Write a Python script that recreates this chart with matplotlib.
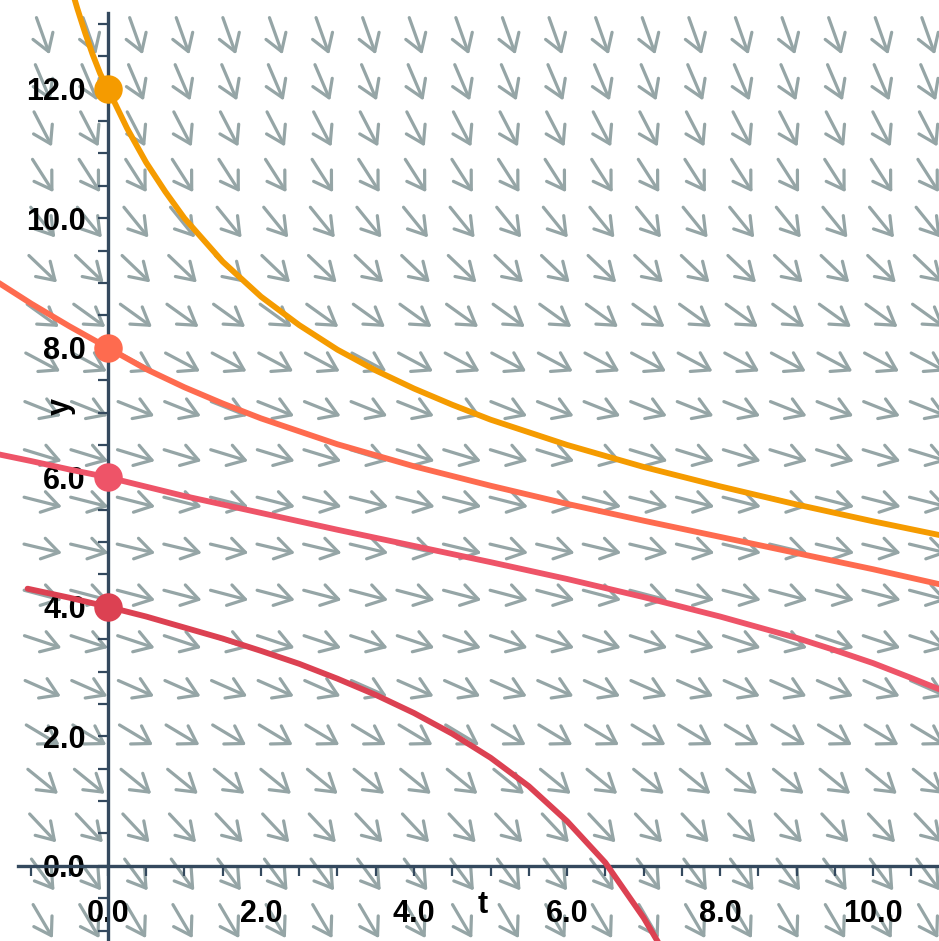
import matplotlib.pyplot as plt
import numpy as np
from matplotlib.ticker import MultipleLocator, FixedLocator

# slope field: dy/dt read per row (top row first), arrows same in every column
row_slopes = [-3.31, -2.77, -2.28, -1.85, -1.46, -1.13, -0.85, -0.63, -0.47, -0.36,
              -0.30, -0.28, -0.31, -0.39, -0.52, -0.71, -0.96, -1.26, -1.61, -2.01]

# solution curves
t_12 = [-0.45, -0.4, -0.3, -0.2, -0.1, 0.0, 0.25, 0.5, 0.75, 1.0, 1.5, 2.0, 2.5, 3.0, 3.5,
        4.0, 4.5, 5.0, 6.0, 7.0, 8.0, 9.0, 10.0, 10.9]
y_12 = [13.44, 13.24, 12.87, 12.53, 12.23, 12.0, 11.39, 10.86, 10.41, 10.0, 9.33, 8.79, 8.35,
        7.97, 7.65, 7.37, 7.12, 6.89, 6.50, 6.16, 5.86, 5.58, 5.32, 5.10]

t_8 = [-1.45, -1.0, -0.5, 0.0, 0.5, 1.0, 1.5, 2.0, 3.0, 4.0, 5.0, 6.0, 7.0, 8.0, 9.0, 10.0, 10.9]
y_8 = [9.02, 8.68, 8.33, 8.0, 7.67, 7.39, 7.14, 6.91, 6.51, 6.17, 5.87, 5.59, 5.33, 5.08,
       4.83, 4.58, 4.34]

t_6 = [-1.45, -1.0, -0.5, 0.0, 1.0, 2.0, 3.0, 4.0, 5.0, 6.0, 7.0, 8.0, 9.0, 9.5, 10.0,
       10.5, 10.9]
y_6 = [6.36, 6.25, 6.12, 6.0, 5.71, 5.45, 5.19, 4.94, 4.69, 4.43, 4.15, 3.85, 3.52, 3.33,
       3.13, 2.90, 2.71]

t_4 = [-1.05, -0.5, 0.0, 0.5, 1.0, 1.5, 2.0, 2.5, 3.0, 3.5, 4.0, 4.5, 5.0, 5.5, 6.0,
       6.5, 7.0, 7.25]
y_4 = [4.28, 4.14, 4.0, 3.85, 3.68, 3.51, 3.32, 3.12, 2.89, 2.64, 2.36, 2.04, 1.67, 1.23,
       0.69, 0.05, -0.80, -1.30]

y_starts = [12.0, 8.0, 6.0, 4.0]
colors = ["#f59b00", "#fe6b4f", "#ee5468", "#dc4152"]

W, H = 939, 941
xmin, xmax = -1.41, 10.86
ymin, ymax = -1.16, 13.37
px_x = W / (xmax - xmin)
px_y = H / (ymax - ymin)

fig = plt.figure(figsize=(W / 100, H / 100), dpi=100)
ax = fig.add_axes([0, 0, 1, 1])
ax.set_xlim(xmin, xmax)
ax.set_ylim(ymin, ymax)

# arrow grid (pixel layout)
arrow_len = 39
for r, s in enumerate(row_slopes):
    py = 36 + 46.6 * r
    yc = ymax - py / px_y
    ang = np.arctan(s * px_y / px_x)
    dx = arrow_len * np.cos(ang) / px_x
    dy = arrow_len * np.sin(ang) / px_y
    for c in range(20):
        tc = xmin + (43 + 46.6 * c) / px_x
        ax.annotate("", xy=(tc + dx / 2, yc + dy / 2), xytext=(tc - dx / 2, yc - dy / 2),
                    arrowprops=dict(arrowstyle="->,head_length=0.6,head_width=0.38",
                                    color="#95a5a6", lw=2.3, shrinkA=0, shrinkB=0,
                                    mutation_scale=20),
                    annotation_clip=False, zorder=1)

curves = [(t_12, y_12), (t_8, y_8), (t_6, y_6), (t_4, y_4)]
for (tt, yy), c, y0 in zip(curves, colors, y_starts):
    ax.plot(tt, yy, color=c, lw=4.2, zorder=3, solid_capstyle="round")
    ax.plot([0], [y0], "o", color=c, ms=19.5, zorder=4, clip_on=False)

axcol = "#34495e"
for side in ["top", "right"]:
    ax.spines[side].set_visible(False)
ax.spines["left"].set_position(("data", 0))
ax.spines["bottom"].set_position(("data", 0))
ax.spines["left"].set_bounds(ymin, 13.17)
ax.spines["bottom"].set_bounds(-1.18, xmax)
for side in ["left", "bottom"]:
    ax.spines[side].set_color(axcol)
    ax.spines[side].set_linewidth(2.4)
    ax.spines[side].set_zorder(2)

ax.xaxis.set_major_locator(FixedLocator([0, 2, 4, 6, 8, 10]))
ax.yaxis.set_major_locator(FixedLocator([0, 2, 4, 6, 8, 10, 12]))
ax.xaxis.set_minor_locator(MultipleLocator(0.5))
ax.yaxis.set_minor_locator(MultipleLocator(0.5))
ax.set_xticklabels(["0.0", "2.0", "4.0", "6.0", "8.0", "10.0"])
ax.set_yticklabels(["0.0", "2.0", "4.0", "6.0", "8.0", "10.0", "12.0"])
ax.tick_params(which="both", direction="out", length=7, width=1.6, color=axcol)
ax.tick_params(axis="x", which="major", pad=17)
ax.tick_params(axis="y", which="major", pad=9)
for lab in ax.get_xticklabels() + ax.get_yticklabels():
    lab.set_fontfamily("Liberation Sans")
    lab.set_fontweight("bold")
    lab.set_fontsize(22)

ax.text(-0.62, 7.1, "y", rotation=90, ha="center", va="center", fontsize=22,
        fontweight="bold", fontfamily="Liberation Sans")
ax.text(4.9, -0.6, "t", ha="center", va="center", fontsize=22,
        fontweight="bold", fontfamily="Liberation Sans")

fig.savefig("out.png", dpi=100)
